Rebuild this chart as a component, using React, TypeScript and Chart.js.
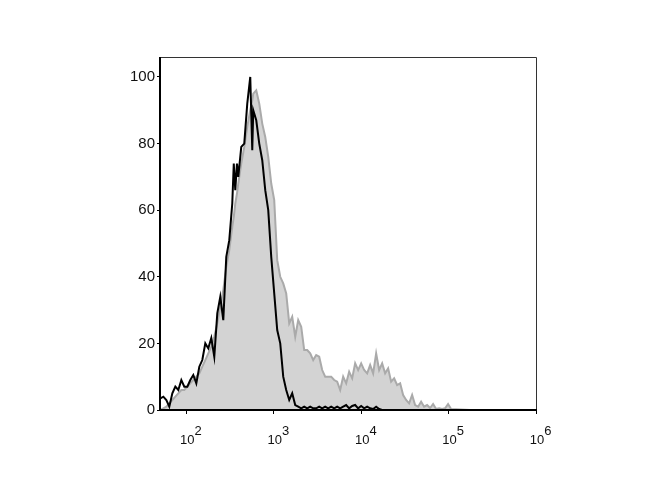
import React, { useRef, useEffect } from "react";
import { Chart, registerables } from "chart.js";

Chart.register(...registerables);

// fluorescence channel positions (log x axis)
const channels = [
  50.5, 54.6, 59.1, 63.9, 69.2, 74.9, 81.0, 87.7, 94.9, 102.7,
  111.1, 120.2, 130.1, 140.8, 152.4, 164.9, 178.4, 193.1, 208.9, 226.1,
  244.7, 264.8, 286.5, 310.1, 335.5, 349.1, 363.1, 379.7, 392.9, 425.2, 460.2, 497.9,
  538.8, 568.0, 583.1, 631.0, 682.8, 738.9, 799.6, 865.2, 936.3, 1013, 1096,
  1187, 1284, 1389, 1504, 1627, 1761, 1905, 2062, 2231, 2414,
  2613, 2827, 3059, 3311, 3583, 3877, 4196, 4541, 4913, 5317,
  5754, 6226, 6738, 7291, 7890, 8538, 9240, 10000, 10822, 11711,
  12673, 13714, 14841, 16060, 17378, 18806, 20351, 22024, 23833, 25791,
  27911, 30200, 32690, 35370, 38280, 41420, 44820, 48510, 52480, 56800,
  61470, 66520, 71970, 77890, 84290, 91200, 98700, 106800, 176100, 387700,
  1000000,
];

// stained sample (grey filled)
const stainedCounts = [
  0, 0.5, 1, 2, 3, 4, 5, 6, 6, 7,
  8, 9, 10, 11, 13, 15, 17, 19, 22, 26,
  31, 36, 43, 48, 55, 58, 62, 65, 68, 74, 79, 85,
  90, 93, 95, 96, 92, 86, 82, 76, 68, 63, 45,
  40, 38, 35, 26, 28, 22, 27, 25, 18, 18,
  17, 15, 16.5, 16, 12, 10, 10, 10, 9, 8.5,
  6, 10, 8, 11.5, 9.5, 14, 12, 14, 12, 11,
  13.5, 11, 17, 12, 14, 11, 12.5, 8.5, 9.5, 7.5,
  8, 4.5, 3, 2, 4.5, 1.5, 1, 2.5, 1, 1.5,
  0.6, 1.8, 0.3, 0.5, 0.3, 0.5, 1.8, 0.3, 0, 0,
  0,
];

// unstained control (black line)
const controlCounts = [
  3.5, 4, 3, 1, 5, 7, 6, 9, 7, 7,
  9, 10.5, 8, 13, 15, 20, 18.5, 21.6, 16, 29,
  34, 27, 46, 51, 62, 74, 66, 74, 70, 79, 80, 92,
  100, 78, 90, 87, 80, 75, 66, 60, 46, 35, 24,
  20, 10, 6, 3, 5, 1.5, 1, 0.5, 1, 0.5,
  1, 0.5, 0.5, 1, 0.5, 1, 0.5, 1, 0.5, 1,
  0.5, 1, 1.5, 0.5, 1.2, 1.5, 0.5, 1.2, 0.5, 1,
  0.5, 0.3, 1, 0.3, 0, 0, 0, 0, 0, 0,
  0, 0, 0, 0, 0, 0, 0, 0, 0, 0,
  0, 0, 0, 0, 0, 0, 0, 0, 0, 0,
  0,
];

const xTickValues = [100, 1000, 10000, 100000, 1000000];
const xTickExponents = ["2", "3", "4", "5", "6"];
const yTickValues = [0, 20, 40, 60, 80, 100];

const FONT = "Arial, 'Liberation Sans', sans-serif";

const framePlugin = {
  id: "frameAndLabels",
  afterDraw(chart: any) {
    const { ctx, chartArea } = chart;
    const { left, top, right, bottom } = chartArea;
    ctx.save();
    ctx.strokeStyle = "#333";
    ctx.lineWidth = 1;
    ctx.beginPath();
    ctx.moveTo(left, top + 0.5);
    ctx.lineTo(right + 0.5, top + 0.5);
    ctx.lineTo(right + 0.5, bottom);
    ctx.stroke();
    ctx.strokeStyle = "#000";
    ctx.lineWidth = 2;
    ctx.beginPath();
    ctx.moveTo(left, top);
    ctx.lineTo(left, bottom + 1);
    ctx.moveTo(left, bottom);
    ctx.lineTo(right + 1, bottom);
    ctx.stroke();

    // x labels as 10 with superscript exponent
    const xScale = chart.scales.x;
    ctx.fillStyle = "#111";
    ctx.font = `13px ${FONT}`;
    ctx.textBaseline = "alphabetic";
    xTickValues.forEach((v, i) => {
      const px = xScale.getPixelForValue(v);
      const w = ctx.measureText("10").width;
      ctx.textAlign = "left";
      ctx.fillText("10", px + 1 - w / 2, 444);
      ctx.fillText(xTickExponents[i], px + 1 + w / 2, 435);
    });
    ctx.restore();
  },
};

const App: React.FC = () => {
  const chartRef = useRef<HTMLCanvasElement | null>(null);

  useEffect(() => {
    const config: any = {
      type: "line",
      data: {
        datasets: [
          {
            label: "Control",
            data: channels.map((x, i) => ({ x, y: controlCounts[i] })),
            borderColor: "#000",
            borderWidth: 2,
            pointRadius: 0,
            tension: 0,
            fill: false,
          },
          {
            label: "Stained",
            data: channels.map((x, i) => ({ x, y: stainedCounts[i] })),
            borderColor: "#aaaaaa",
            backgroundColor: "#d3d3d3",
            borderWidth: 2,
            pointRadius: 0,
            tension: 0,
            fill: "origin",
          },
        ],
      },
      options: {
        animation: false,
        responsive: true,
        maintainAspectRatio: false,
        layout: { padding: { left: 0, top: 57, right: 134, bottom: 0 } },
        plugins: {
          legend: { display: false },
          tooltip: { enabled: false },
        },
        scales: {
          x: {
            type: "logarithmic",
            min: 50,
            max: 1000000,
            afterBuildTicks: (scale: any) => {
              scale.ticks = xTickValues.map((value) => ({ value }));
            },
            afterFit: (scale: any) => {
              scale.height = 90;
            },
            ticks: { display: false },
            grid: {
              display: true,
              drawOnChartArea: false,
              drawTicks: true,
              tickLength: 4,
              color: "#000",
            },
            border: { display: false },
          },
          y: {
            min: 0,
            max: 106,
            afterBuildTicks: (scale: any) => {
              scale.ticks = yTickValues.map((value) => ({ value }));
            },
            afterFit: (scale: any) => {
              scale.width = 160;
            },
            ticks: {
              color: "#111",
              padding: 2,
              font: { family: FONT, size: 15 },
            },
            grid: {
              display: true,
              drawOnChartArea: false,
              drawTicks: true,
              tickLength: 3,
              color: "#000",
            },
            border: { display: false },
          },
        },
      },
      plugins: [framePlugin],
    };

    const chart = new Chart(chartRef.current!.getContext("2d")!, config);
    return () => {
      chart.destroy();
    };
  }, []);

  return (
    <div style={{ position: "absolute", left: 0, top: 0, width: "670px", height: "500px" }}>
      <canvas ref={chartRef}></canvas>
    </div>
  );
};

export default App;
